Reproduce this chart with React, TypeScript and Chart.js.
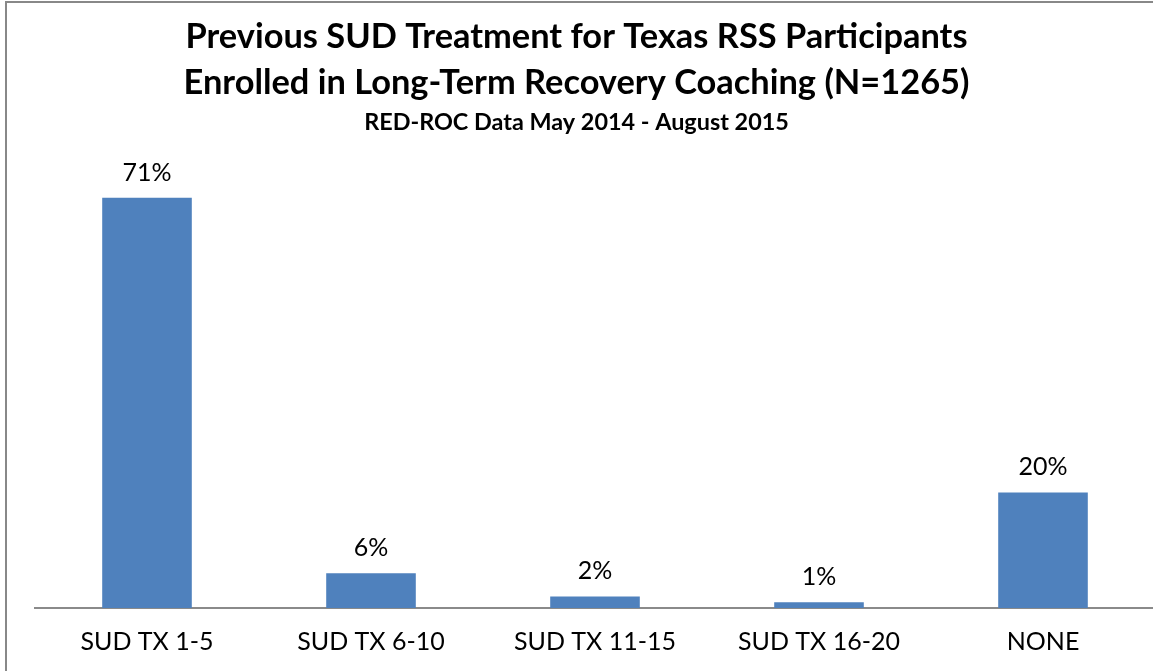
import React, { useEffect, useRef } from "react";
import { Chart, registerables } from "chart.js";

Chart.register(...registerables);

const categories = ["SUD TX 1-5", "SUD TX 6-10", "SUD TX 11-15", "SUD TX 16-20", "NONE"];
const percentValues = [71, 6, 2, 1, 20];
const titleLines = [
  "Previous SUD Treatment for Texas RSS Participants",
  "Enrolled in Long-Term Recovery Coaching (N=1265)",
];
const subtitleText = "RED-ROC Data May 2014 - August 2015";

const FONT = "Lato, 'Open Sans', sans-serif";

const valueLabelPlugin = {
  id: "valueLabels",
  afterDatasetsDraw(chart: any) {
    const ctx = chart.ctx;
    const meta = chart.getDatasetMeta(0);
    ctx.save();
    ctx.font = `25px ${FONT}`;
    ctx.fillStyle = "#000000";
    ctx.textAlign = "center";
    ctx.textBaseline = "alphabetic";
    meta.data.forEach((bar: any, i: number) => {
      ctx.fillText(`${percentValues[i]}%`, bar.x, bar.y - 17);
    });
    ctx.restore();
  },
};

export default function App() {
  const canvasRef = useRef<HTMLCanvasElement | null>(null);

  useEffect(() => {
    if (!canvasRef.current) return;
    const chart = new Chart(canvasRef.current, {
      type: "bar",
      data: {
        labels: categories,
        datasets: [
          {
            data: percentValues,
            backgroundColor: "#4F81BD",
            borderWidth: 0,
            barPercentage: 0.4,
            categoryPercentage: 1,
          },
        ],
      },
      options: {
        animation: false,
        responsive: false,
        maintainAspectRatio: false,
        layout: { padding: { left: 0, right: 5, top: 0, bottom: 15 } },
        plugins: {
          legend: { display: false },
          tooltip: { enabled: false },
          title: {
            display: true,
            text: titleLines,
            color: "#000000",
            font: { family: FONT, size: 34.4, weight: "bold", lineHeight: 1.326 },
            padding: { top: 14, bottom: 0 },
          },
          subtitle: {
            display: true,
            text: subtitleText,
            color: "#000000",
            font: { family: FONT, size: 23.4, weight: "bold", lineHeight: 1.2 },
            padding: { top: 3.3, bottom: 9.1 },
          },
        },
        scales: {
          x: {
            grid: { display: false, drawTicks: false },
            border: { display: true, color: "#8A8A8A", width: 2 },
            ticks: {
              color: "#000000",
              padding: 18.5,
              font: { family: FONT, size: 25 },
            },
          },
          y: {
            display: true,
            min: 0,
            max: 80,
            grid: { display: false, drawTicks: false },
            border: { display: false },
            ticks: { display: false },
            afterFit: (scale: any) => {
              scale.width = 37;
            },
          },
        },
      },
      plugins: [valueLabelPlugin],
    });
    return () => chart.destroy();
  }, []);

  return (
    <div style={{ position: "fixed", left: 0, top: 0, width: 1153, height: 671, overflow: "hidden", background: "#ffffff" }}>
      <div
        style={{
          position: "absolute",
          left: 5,
          top: 1,
          width: 2000,
          height: 2000,
          border: "2px solid #888888",
        }}
      />
      <canvas
        ref={canvasRef}
        width={1162}
        height={690}
        style={{ position: "absolute", left: -2, top: 0, width: 1162, height: 690 }}
      />
    </div>
  );
}
